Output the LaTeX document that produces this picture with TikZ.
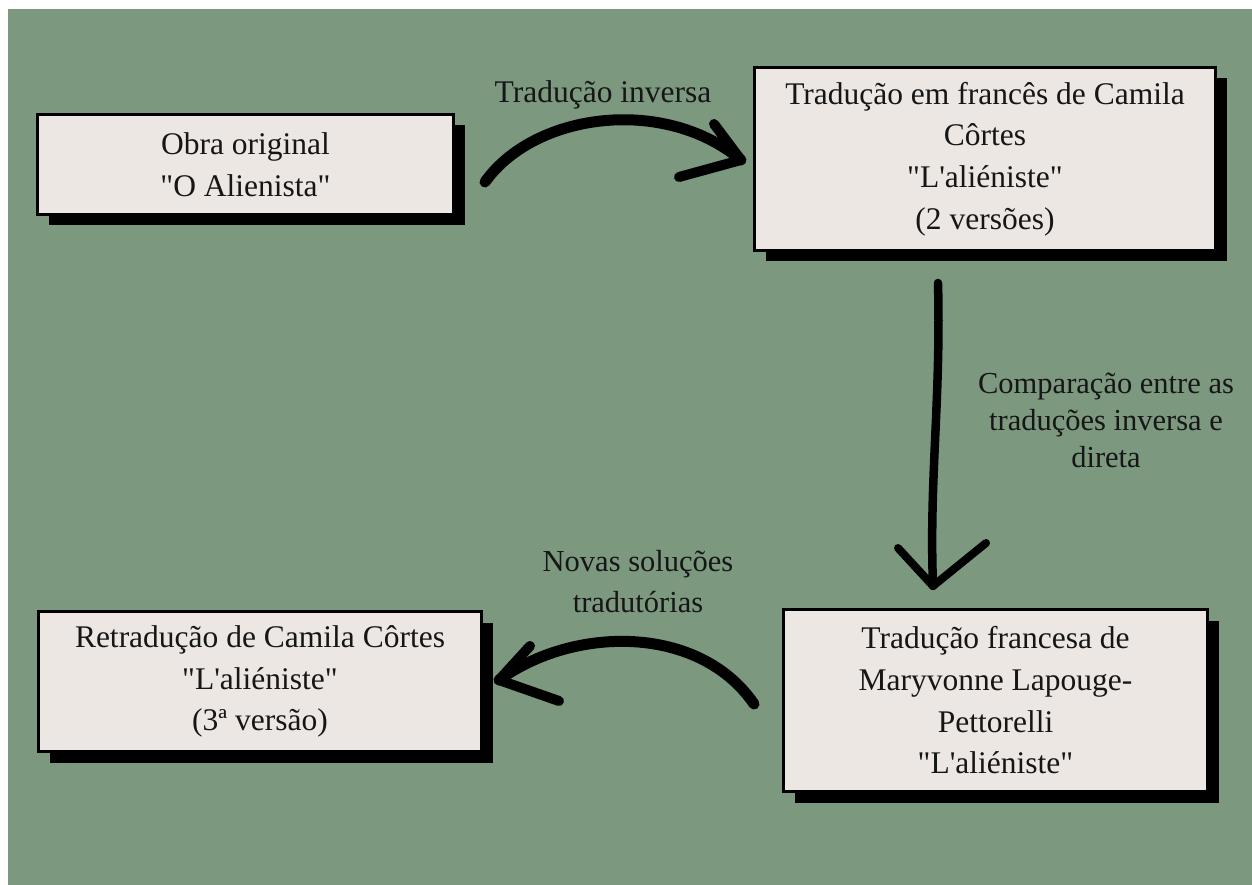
\documentclass[tikz,border=0pt]{standalone}
\usepackage{fontspec}
\setmainfont{Liberation Serif}[Ligatures=TeXOff]
\usetikzlibrary{shadows}
\definecolor{bggreen}{RGB}{124,152,127}
\definecolor{boxfill}{RGB}{236,231,227}
\definecolor{ink}{RGB}{22,22,22}
\begin{document}
\begin{tikzpicture}[x=1pt,y=-1pt,
  box/.style={draw=black, line width=3pt, fill=boxfill, align=center, text=ink,
    font=\fontsize{31.5}{41.7}\selectfont, inner sep=0pt,
    drop shadow={shadow xshift=11pt, shadow yshift=-11pt, fill=black, opacity=1}},
  lbl/.style={text=ink, align=center, inner sep=0pt},
  brush/.style={draw=black, line width=11pt, line cap=round, line join=round},
  barb/.style={draw=black, line width=10pt, line cap=round, line join=round}]
\useasboundingbox (0,0) rectangle (1252,885);
\fill[white] (0,0) rectangle (1252,885);
\fill[bggreen] (8,9) rectangle (1252,885);

% boxes
\node[box, minimum width=416pt, minimum height=100pt] (b1) at (245.5,164.5)
  {Obra original\\"O Alienista"};
\node[box, minimum width=461pt, minimum height=183pt] (b2) at (985,159)
  {Tradução em francês de Camila\\Côrtes\\"L'aliéniste"\\(2 versões)};
\node[box, minimum width=424pt, minimum height=182pt] (b3) at (995.5,700.5)
  {Tradução francesa de\\Maryvonne Lapouge-\\Pettorelli\\"L'aliéniste"};
\node[box, minimum width=443pt, minimum height=140pt] (b4) at (260,681.5)
  {Retradução de Camila Côrtes\\"L'aliéniste"\\(3ª versão)};

% labels
\node[lbl, font=\fontsize{31.5}{40}\selectfont] (l1) at (603,95) {Tradução inversa};
\node[lbl, font=\fontsize{30.5}{37}\selectfont] (l2) at (1106,420)
  {Comparação entre as\\traduções inversa e\\direta};
\node[lbl, font=\fontsize{30.5}{41}\selectfont] (l3) at (638,582)
  {Novas soluções\\tradutórias};

% connector end points
\coordinate (a1s) at (485,182);
\coordinate (a1t) at (741,160);
\coordinate (a2s) at (938,283);
\coordinate (a2t) at (933,586);
\coordinate (a3s) at (754,704);
\coordinate (a3t) at (499,680);

% arrow 1: b1 -> b2
\draw[brush] (a1s) .. controls (535,112) and (665,96) .. (a1t);
\draw[barb] (714,124) -- (a1t) -- (679,177);
% arrow 2: b2 -> b3
\draw[brush, line width=8.5pt] (a2s) .. controls (941,400) and (929,480) .. (a2t);
\draw[barb, line width=8pt] (898,548) -- (a2t) -- (986,543);
% arrow 3: b3 -> b4
\draw[brush] (a3s) .. controls (700,625) and (575,625) .. (a3t);
\draw[barb] (530,646) -- (a3t) -- (559,701);
\end{tikzpicture}
\end{document}
